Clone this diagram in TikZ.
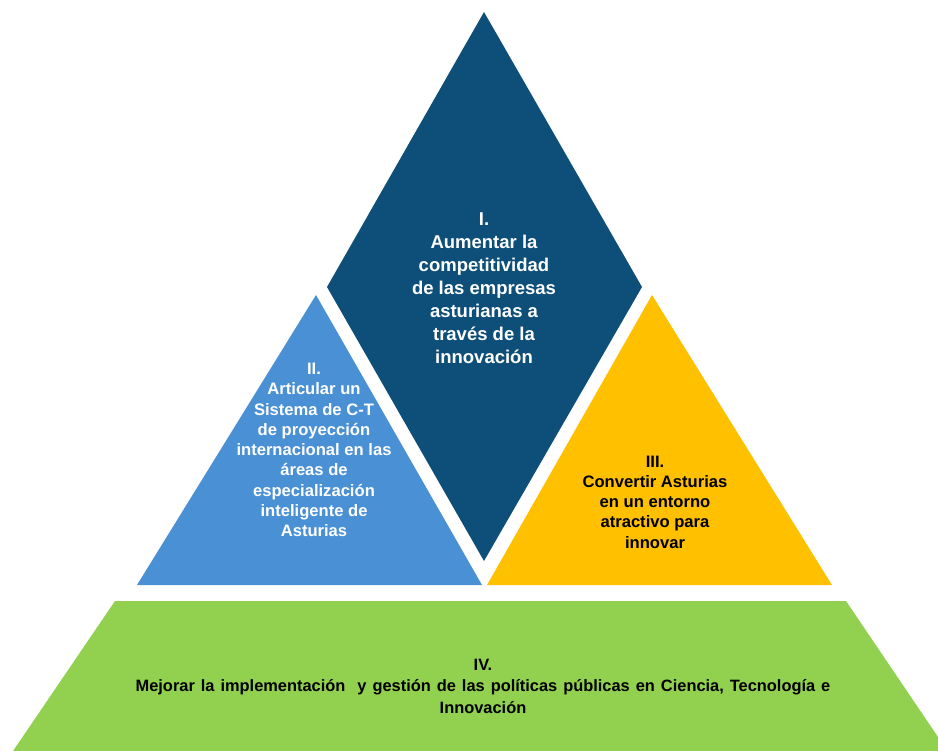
\documentclass[tikz,border=0pt]{standalone}
\usepackage{fontspec}
\setmainfont{Liberation Sans}
\definecolor{darkblue}{RGB}{14,79,121}
\definecolor{lightblue}{RGB}{74,144,212}
\definecolor{goldy}{RGB}{255,192,0}
\definecolor{greeny}{RGB}{146,208,80}
\newcommand\myWideSpaces{\spaceskip 6pt\relax}
\tikzset{
  lbl/.style={align=center, inner sep=0pt, font=\bfseries\fontsize{16.6}{20.3}\selectfont},
  biglbl/.style={align=center, inner sep=0pt, font=\bfseries\fontsize{18.5}{23}\selectfont},
  basel/.style={align=center, inner sep=0pt, font=\bfseries\fontsize{16.4}{21.5}\selectfont\myWideSpaces},
}
\begin{document}
\begin{tikzpicture}[x=1pt,y=-1pt]
\useasboundingbox (0,0) rectangle (938,751);
% shapes
\fill[darkblue] (484,12) -- (642,287) -- (484,561) -- (327,287) -- cycle;
\fill[lightblue] (316,295) -- (482,585) -- (137,585) -- cycle;
\fill[goldy] (652,295) -- (832,585) -- (487,585) -- cycle;
\fill[greeny] (115,601) -- (846,601) -- (938,737) -- (938,751) -- (13,751) -- cycle;
% labels
\node[biglbl, text=white] (t1) at (484,288) {I.\\Aumentar la\\competitividad\\de las empresas\\asturianas a\\través de la\\innovación};
\node[lbl, text=white] (t2) at (314,450) {II.\\Articular un\\Sistema de C-T\\de proyección\\internacional en las\\áreas de\\especialización\\inteligente de\\Asturias};
\node[lbl, text=black] (t3) at (655,502) {III.\\Convertir Asturias\\en un entorno\\atractivo para\\innovar};
\node[basel, text=black] (t4) at (483,686) {IV.\\Mejorar la implementación\ \ y gestión de las políticas públicas en Ciencia, Tecnología e\\Innovación};
\end{tikzpicture}
\end{document}
